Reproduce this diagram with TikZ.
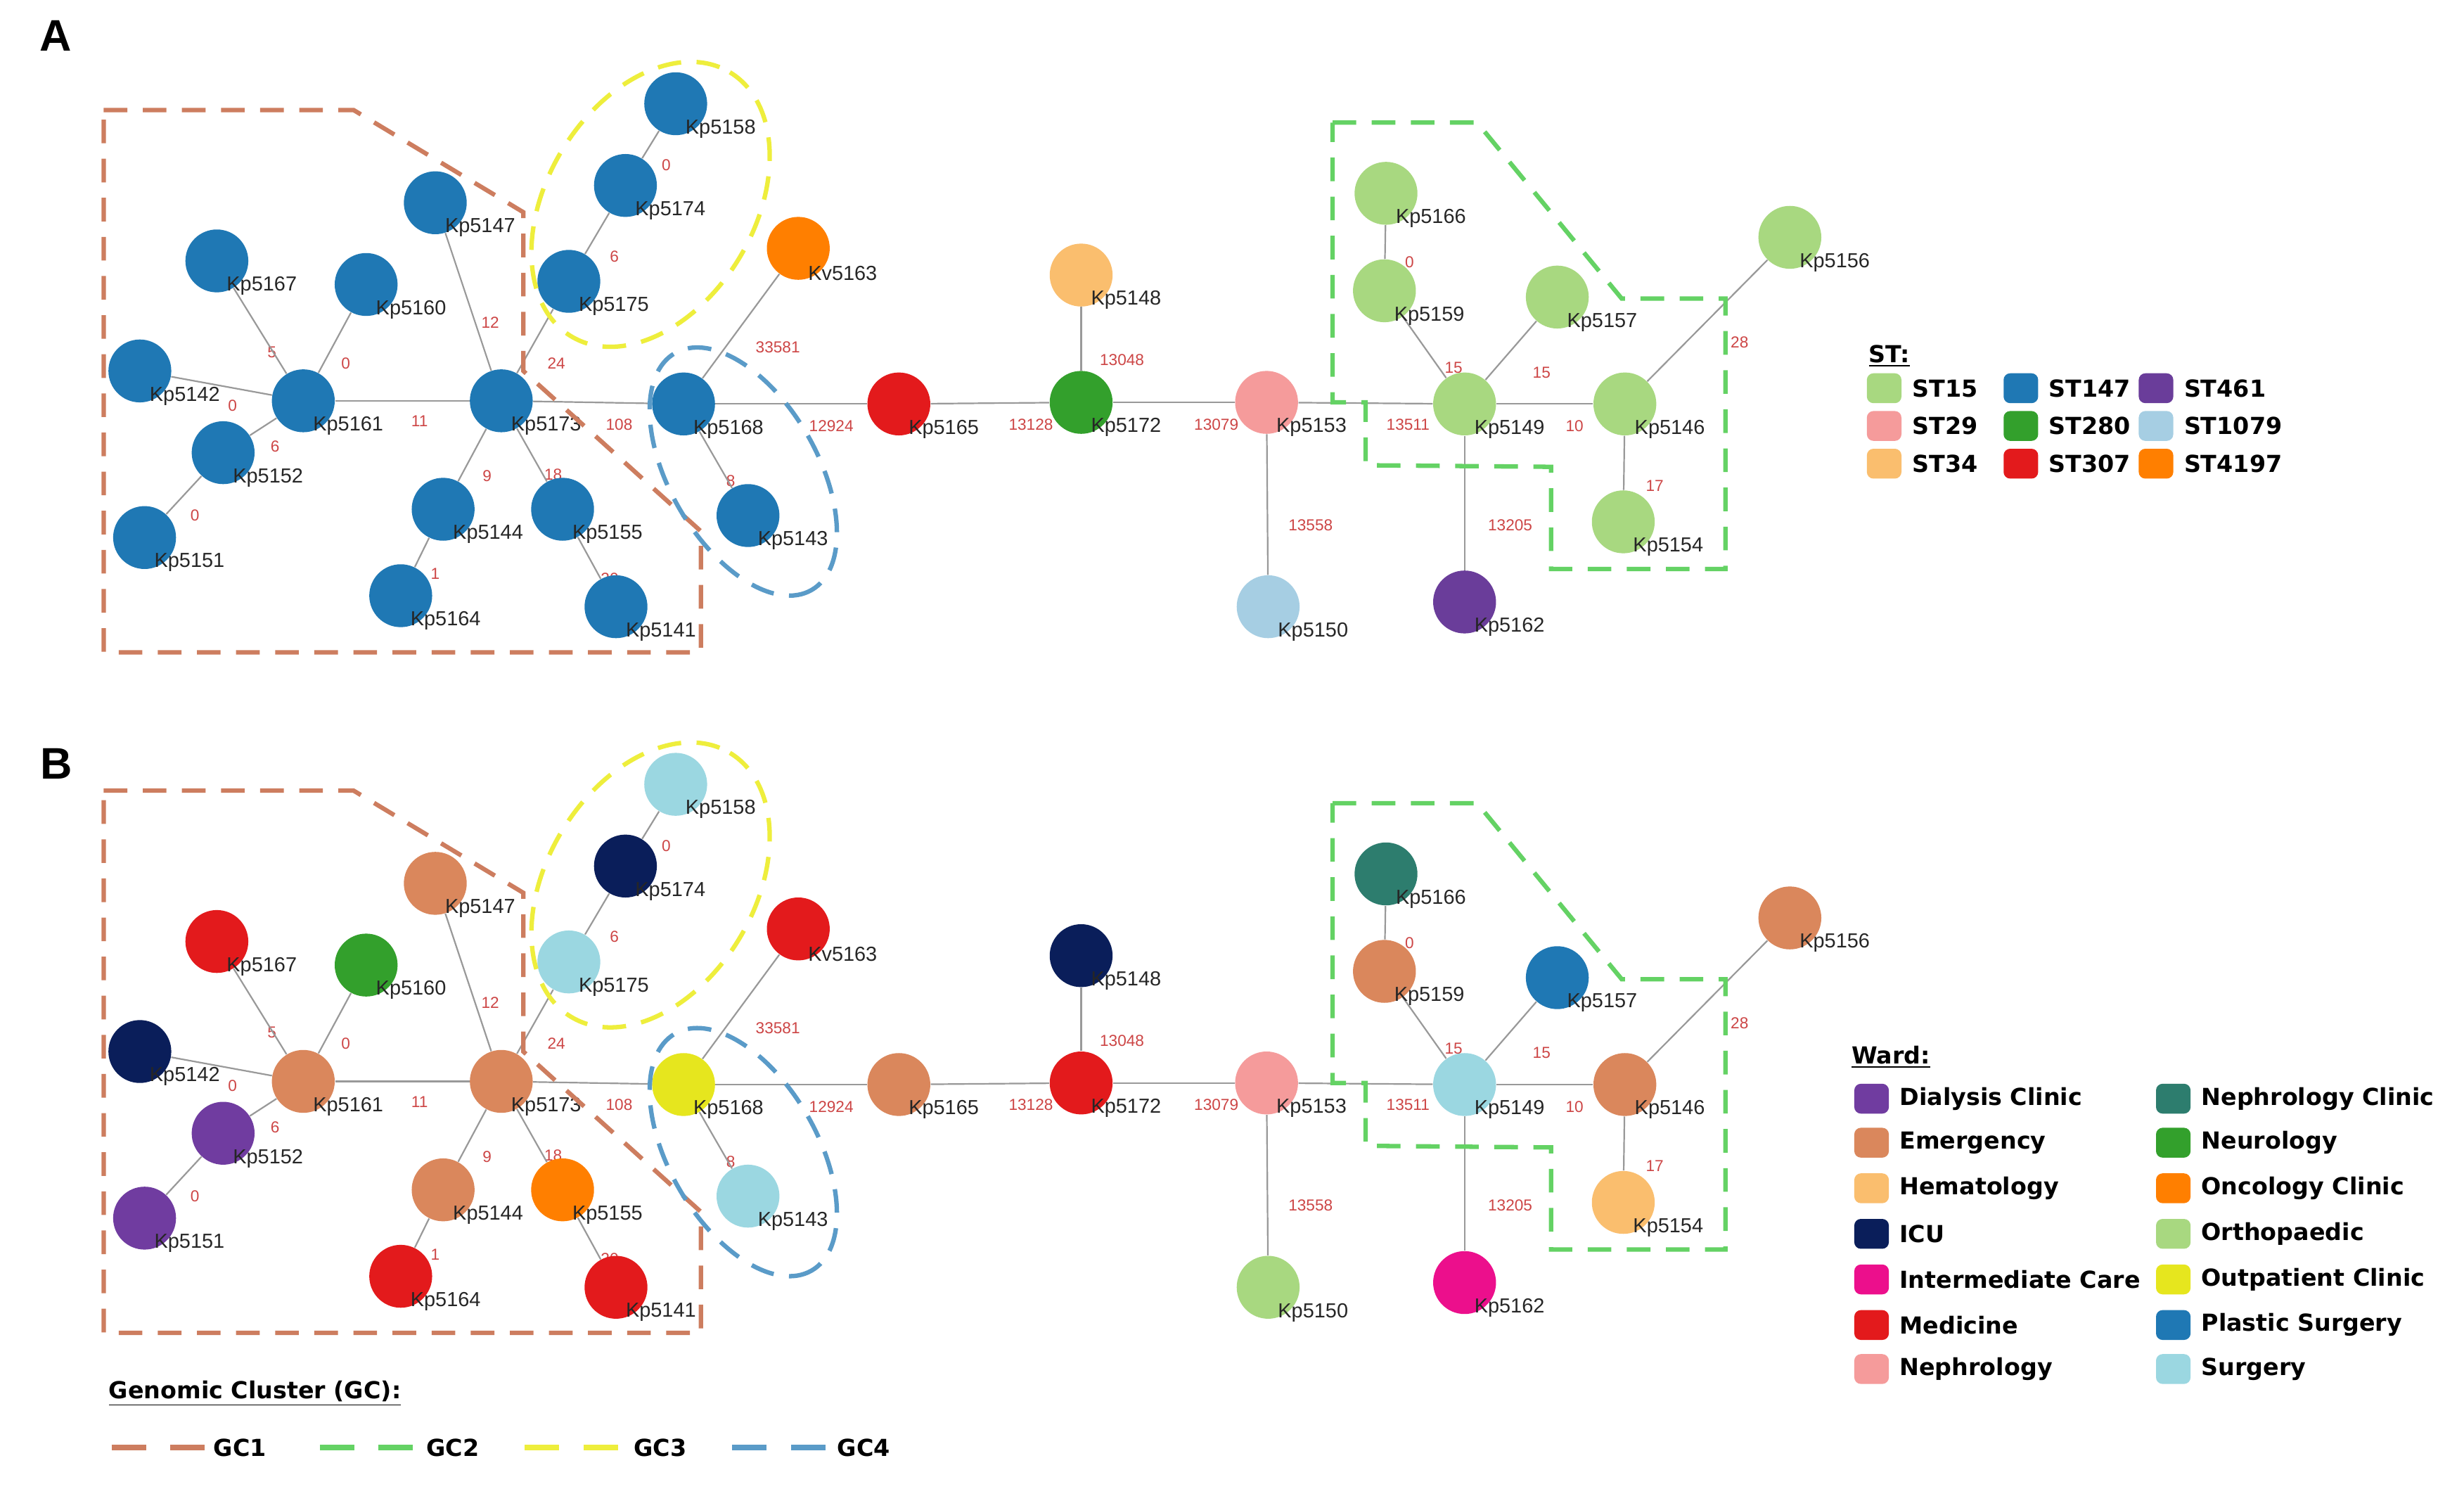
\documentclass[tikz,border=0pt]{standalone}
\usepackage{fontspec}
\setmainfont{Liberation Sans}
\newfontfamily\legendfont{DejaVu Sans}
\usetikzlibrary{positioning}

% ST colours
\definecolor{st15}{RGB}{168,216,128}
\definecolor{st29}{RGB}{245,155,155}
\definecolor{st34}{RGB}{250,190,110}
\definecolor{st147}{RGB}{31,120,180}
\definecolor{st280}{RGB}{51,160,44}
\definecolor{st307}{RGB}{227,26,28}
\definecolor{st461}{RGB}{106,61,154}
\definecolor{st1079}{RGB}{166,206,227}
\definecolor{st4197}{RGB}{255,127,0}
% ward colours
\definecolor{dialysis}{RGB}{112,60,160}
\definecolor{emergency}{RGB}{218,135,92}
\colorlet{hematology}{st34}
\definecolor{icu}{RGB}{10,30,90}
\definecolor{intercare}{RGB}{236,15,140}
\colorlet{medicine}{st307}
\colorlet{nephrology}{st29}
\definecolor{nephclinic}{RGB}{45,125,110}
\colorlet{neurology}{st280}
\colorlet{oncology}{st4197}
\colorlet{ortho}{st15}
\definecolor{outpatient}{RGB}{230,230,30}
\colorlet{plastic}{st147}
\definecolor{surgery}{RGB}{155,215,225}
% genomic clusters
\definecolor{gc1}{RGB}{205,125,95}
\definecolor{gc2}{RGB}{100,210,100}
\definecolor{gc3}{RGB}{238,238,60}
\definecolor{gc4}{RGB}{90,155,200}
\definecolor{wtred}{RGB}{205,70,70}

\tikzset{
  isolate/.style={circle, minimum size=1cm, inner sep=0pt, draw=none},
  kp/.style={anchor=west, inner sep=0pt, text=black!85, font=\fontsize{9.2}{11}\selectfont},
  wlabel/.style={inner sep=0pt, text=wtred, font=\fontsize{7.2}{9}\selectfont},
  mstlink/.style={draw=black!40, line width=0.7pt},
  cluster/.style={line width=2pt, dash pattern=on 10.7pt off 7pt},
  keydash/.style={line width=2.6pt, dash pattern=on 15.6pt off 11pt},
  swatch/.style={minimum width=0.55cm, minimum height=0.475cm, inner sep=0pt, rounded corners=3pt},
  keytext/.style={inner sep=0pt, font=\legendfont\bfseries\fontsize{10.6}{12}\selectfont},
  panel/.style={inner sep=0pt, font=\bfseries\fontsize{20}{24}\selectfont}
}

% isolate / x / y / ST colour / ward colour
\newcommand{\isolates}{%
Kp5158/430/66/st147/surgery,
Kp5174/398/118/st147/icu,
Kp5175/362/179/st147/surgery,
Kp5147/277/129/st147/emergency,
Kp5167/138/166/st147/medicine,
Kp5160/233/181/st147/neurology,
Kp5142/89/236/st147/icu,
Kp5161/193/255/st147/emergency,
Kp5173/319/255/st147/emergency,
Kp5168/435/257/st147/outpatient,
Kp5152/142/288/st147/dialysis,
Kp5151/92/342/st147/dialysis,
Kp5144/282/324/st147/emergency,
Kp5155/358/324/st147/oncology,
Kp5164/255/379/st147/medicine,
Kp5141/392/386/st147/medicine,
Kp5143/476/328/st147/surgery,
Kv5163/508/158/st4197/medicine,
Kp5165/572/257/st307/emergency,
Kp5148/688/175/st34/icu,
Kp5172/688/256/st280/medicine,
Kp5153/806/256/st29/nephrology,
Kp5150/807/386/st1079/ortho,
Kp5166/882/123/st15/nephclinic,
Kp5159/881/185/st15/emergency,
Kp5157/991/189/st15/plastic,
Kp5149/932/257/st15/surgery,
Kp5146/1034/257/st15/emergency,
Kp5154/1033/332/st15/hematology,
Kp5156/1139/151/st15/emergency,
Kp5162/932/383/st461/intercare}

% from / to / distance / label x / label y
\newcommand{\links}{%
Kp5158/Kp5174/0/424/105,
Kp5174/Kp5175/6/391/163,
Kp5175/Kp5173/24/354/231,
Kp5147/Kp5173/12/312/205,
Kp5167/Kp5161/5/173/224,
Kp5160/Kp5161/0/220/231,
Kp5142/Kp5161/0/148/258,
Kp5161/Kp5173/11/267/268,
Kp5152/Kp5161/6/175/284,
Kp5151/Kp5152/0/124/328,
Kp5173/Kp5144/9/310/303,
Kp5173/Kp5155/18/352/302,
Kp5144/Kp5164/1/277/365,
Kp5155/Kp5141/20/388/368,
Kp5173/Kp5168/108/394/270,
Kp5168/Kp5143/8/465/306,
Kp5168/Kv5163/33581/495/221,
Kp5168/Kp5165/12924/529/271,
Kp5165/Kp5172/13128/656/270,
Kp5172/Kp5148/13048/714/229,
Kp5172/Kp5153/13079/774/270,
Kp5153/Kp5150/13558/834/334,
Kp5153/Kp5149/13511/896/270,
Kp5166/Kp5159/0/897/167,
Kp5159/Kp5149/15/925/234,
Kp5157/Kp5149/15/981/237,
Kp5149/Kp5146/10/1002/271,
Kp5149/Kp5162/13205/961/334,
Kp5146/Kp5156/28/1107/218,
Kp5146/Kp5154/17/1053/309}

% one minimum spanning tree, #1 = colour field
\newcommand{\mstree}[1]{%
  % distances (under the circles)
  \foreach \a/\b/\d/\lx/\ly [count=\i] in \links
    \node[wlabel] (w\i) at (\lx,\ly) {\d};
  % isolates
  \foreach \n/\x/\y/\stc/\wdc in \isolates
    \node[isolate, fill=#1] (\n) at (\x,\y) {};
  % links
  \foreach \a/\b/\d/\lx/\ly in \links
    \draw[mstlink] (\a) -- (\b);
  % names
  \foreach \n/\x/\y/\stc/\wdc in \isolates
    \node[kp] (\n-id) at (\x+6,\y+16) {\n};
  % genomic clusters
  \draw[cluster, gc1] (66,70) -- (225,70) -- (333,135) -- (333,236) -- (446,338) -- (446,415) -- (66,415) -- cycle;
  \draw[cluster, gc2] (848,78) -- (940,78) -- (1032,190) -- (1098,190) -- (1098,362) -- (987,362) -- (987,297) -- (869,296) -- (869,256) -- (848,256) -- cycle;
  \draw[cluster, gc3, rotate around={59:(414,130)}] (414,130) ellipse [x radius=98, y radius=66];
  \draw[cluster, gc4, rotate around={-60:(473,300)}] (473,300) ellipse [x radius=87, y radius=47];
}

\begin{document}
\begin{tikzpicture}[x=0.025cm, y=-0.025cm]
  \fill[white] (0,0) rectangle (1568,947);
  \useasboundingbox (0,0) rectangle (1568,947);

  % Panel A: sequence types
  \node[panel] (A) at (35.5,22.7) {A};
  \begin{scope}[name prefix=A-]
    \mstree{\stc}
  \end{scope}

  % Panel B: wards
  \node[panel] (B) at (36,486) {B};
  \begin{scope}[name prefix=B-, shift={(0,433)}]
    \mstree{\wdc}
  \end{scope}

  % ST key
  \node[keytext, anchor=west] (st-title) at (1189,226.5) {\underline{ST:}};
  \foreach \s/\k/\x/\y in {ST15/st15/1199/247, ST29/st29/1199/271, ST34/st34/1199/295,
      ST147/st147/1286/247, ST280/st280/1286/271, ST307/st307/1286/295,
      ST461/st461/1372/247, ST1079/st1079/1372/271, ST4197/st4197/1372/295} {
    \node[swatch, fill=\k] (\k-key) at (\x,\y) {};
    \node[keytext, right=4.5pt of \k-key] (\k-txt) {\s};
  }

  % Ward key
  \node[keytext, anchor=west] (ward-title) at (1178,672.5) {\underline{Ward:}};
  \foreach \s/\k/\x/\y in {Dialysis Clinic/dialysis/1191/699, Emergency/emergency/1191/727,
      Hematology/hematology/1191/756, ICU/icu/1191/785, Intermediate Care/intercare/1191/814,
      Medicine/medicine/1191/843, Nephrology/nephrology/1191/871,
      Nephrology Clinic/nephclinic/1383/699, Neurology/neurology/1383/727,
      Oncology Clinic/oncology/1383/756, Orthopaedic/ortho/1383/785,
      Outpatient Clinic/outpatient/1383/814, Plastic Surgery/plastic/1383/843,
      Surgery/surgery/1383/871} {
    \node[swatch, fill=\k] (\k-key) at (\x,\y) {};
    \node[keytext, right=4.5pt of \k-key] (\k-txt) {\s};
  }

  % Genomic cluster key
  \node[keytext, anchor=west] (gc-title) at (69,886.6) {\underline{Genomic Cluster (GC):}};
  \foreach \g/\k/\x/\t in {GC1/gc1/71/135.6, GC2/gc2/203.5/271, GC3/gc3/334/403, GC4/gc4/466/532.6} {
    \coordinate (\k-a) at (\x,921);
    \coordinate (\k-b) at (\x+59.5,921);
    \draw[keydash, \k] (\k-a) -- (\k-b);
    \node[keytext, anchor=west] (\k-txt) at (\t,921) {\g};
  }
\end{tikzpicture}
\end{document}
